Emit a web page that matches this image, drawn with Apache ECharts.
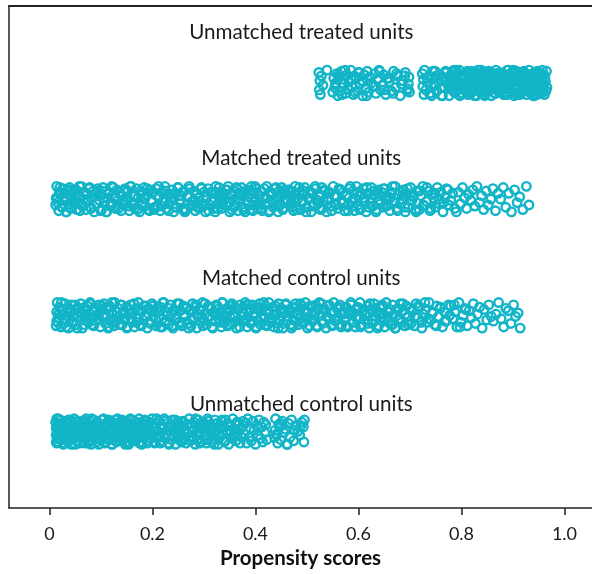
<!DOCTYPE html>
<html>
<head>
<meta charset="utf-8">
<script src="https://cdn.jsdelivr.net/npm/echarts@6/dist/echarts.min.js"></script>
<style>
  html, body { margin: 0; padding: 0; background: #fff; }
  #chart { width: 592px; height: 574px; }
</style>
</head>
<body>
<div id="chart"></div>
<script>
// ---- axis ----
const xTicks = [0, 0.2, 0.4, 0.6, 0.8, 1.0];
const xTickLabels = ['0', '0.2', '0.4', '0.6', '0.8', '1.0'];
const axisTitle = 'Propensity scores';

// ---- groups (rows, bottom to top) ----
const groupNames = ['Unmatched control units', 'Matched control units', 'Matched treated units', 'Unmatched treated units'];
const groupRows = [1, 2, 3, 4];
const labelX = 0.489;
const labelY = [1.237, 2.321, 3.348, 4.438];

// ---- propensity scores ----
const unmatchedTreated = [
0.523,0.524,0.525,0.526,0.528,0.531,0.539,0.550,0.552,0.554,0.556,0.558,0.560,0.563,0.565,0.567,0.570,0.572,0.575,0.577,
0.580,0.582,0.585,0.587,0.590,0.592,0.595,0.598,0.600,0.603,0.606,0.608,0.611,0.614,0.617,0.619,0.622,0.625,0.628,0.631,
0.634,0.637,0.640,0.643,0.646,0.649,0.653,0.656,0.660,0.664,0.668,0.672,0.676,0.681,0.686,0.691,0.696,0.697,0.698,0.699,
0.724,0.725,0.726,0.727,0.728,0.731,0.734,0.737,0.740,0.743,0.746,0.749,0.752,0.755,0.758,0.761,0.764,0.767,0.770,0.773,
0.776,0.778,0.780,0.782,0.784,0.786,0.788,0.790,0.792,0.794,0.796,0.798,0.800,0.802,0.804,0.806,0.808,0.810,0.812,0.814,
0.816,0.818,0.819,0.821,0.823,0.825,0.826,0.828,0.830,0.832,0.833,0.835,0.837,0.839,0.840,0.842,0.844,0.846,0.847,0.849,
0.851,0.853,0.854,0.856,0.858,0.860,0.861,0.863,0.865,0.867,0.868,0.870,0.872,0.874,0.875,0.877,0.879,0.881,0.882,0.884,
0.886,0.888,0.889,0.891,0.893,0.895,0.896,0.898,0.900,0.902,0.903,0.905,0.907,0.909,0.910,0.912,0.914,0.916,0.917,0.919,
0.921,0.923,0.924,0.926,0.928,0.930,0.931,0.933,0.935,0.937,0.938,0.940,0.942,0.944,0.945,0.947,0.949,0.951,0.952,0.954,
0.955,0.956,0.957,0.958,0.959,0.960,0.961,0.962,0.963,0.964,0.965,0.966,0.784,0.797,0.812,0.827,0.843,0.858,0.873,0.889,
0.742,0.751,0.760,0.769,0.779,0.789,0.799,0.809,0.819,0.829,0.838,0.848,0.857,0.866,0.876,0.885,0.894,0.904,0.913,0.922,
0.801,0.811,0.822,0.834,0.845,0.856,0.867,0.879,0.890,0.901,0.912,0.923,0.933,0.942,0.948,0.903,0.918,0.932,0.946,0.953,
0.776,0.781,0.786,0.791,0.795,0.800,0.805,0.810,0.815,0.820,0.824,0.829,0.834,0.838,0.843,0.848,0.852,0.857,0.862,0.866,
0.871,0.876,0.880,0.885,0.889,0.894,0.899,0.903,0.908,0.913,0.917,0.921,0.926,0.930,0.935,0.939,0.943,0.947,0.951,0.956,
0.733,0.738,0.744,0.750,0.757,0.763,0.770,0.777,0.783,0.790,0.817,0.831,0.846,0.861,0.878,0.892,0.907,0.920,0.936,0.950,
0.555,0.562,0.568,0.574,0.579,0.586,0.593,0.601,0.609,0.616,0.623,0.633,0.641,0.650,0.659,0.667,0.674,0.683,0.690,0.694
];
const matchedTreated = [
0.012,0.013,0.014,0.016,0.018,0.019,0.021,0.024,0.026,0.027,0.030,0.032,0.034,0.037,0.039,0.041,0.043,0.046,0.048,0.050,
0.052,0.055,0.057,0.059,0.062,0.064,0.066,0.068,0.071,0.073,0.075,0.078,0.080,0.082,0.085,0.087,0.089,0.092,0.094,0.097,
0.099,0.101,0.104,0.106,0.109,0.111,0.113,0.116,0.118,0.121,0.123,0.126,0.128,0.131,0.133,0.136,0.139,0.141,0.144,0.147,
0.149,0.152,0.155,0.158,0.161,0.163,0.166,0.169,0.172,0.175,0.178,0.181,0.184,0.186,0.189,0.192,0.195,0.198,0.201,0.204,
0.207,0.210,0.213,0.215,0.218,0.221,0.224,0.227,0.230,0.232,0.235,0.238,0.241,0.244,0.247,0.250,0.253,0.256,0.259,0.262,
0.265,0.268,0.271,0.274,0.277,0.280,0.283,0.286,0.289,0.292,0.295,0.297,0.300,0.303,0.306,0.308,0.311,0.314,0.316,0.319,
0.322,0.324,0.327,0.329,0.332,0.334,0.337,0.339,0.342,0.344,0.347,0.349,0.352,0.354,0.357,0.359,0.362,0.364,0.366,0.369,
0.371,0.373,0.376,0.378,0.380,0.383,0.385,0.387,0.390,0.392,0.394,0.397,0.399,0.401,0.404,0.406,0.408,0.411,0.413,0.415,
0.418,0.420,0.422,0.425,0.427,0.429,0.432,0.434,0.436,0.439,0.441,0.444,0.446,0.448,0.451,0.453,0.456,0.458,0.461,0.463,
0.466,0.469,0.471,0.474,0.477,0.479,0.482,0.485,0.488,0.491,0.493,0.496,0.499,0.502,0.505,0.508,0.511,0.514,0.517,0.520,
0.523,0.526,0.529,0.532,0.535,0.538,0.541,0.544,0.547,0.551,0.554,0.557,0.560,0.563,0.567,0.570,0.573,0.576,0.580,0.583,
0.586,0.589,0.592,0.596,0.599,0.602,0.605,0.609,0.612,0.615,0.618,0.622,0.625,0.628,0.632,0.635,0.638,0.641,0.645,0.648,
0.651,0.654,0.658,0.661,0.664,0.667,0.671,0.674,0.677,0.681,0.684,0.687,0.691,0.694,0.697,0.701,0.704,0.707,0.711,0.714,
0.718,0.721,0.725,0.728,0.732,0.735,0.739,0.742,0.746,0.749,0.753,0.757,0.760,0.764,0.768,0.771,0.775,0.779,0.783,0.787,
0.790,0.794,0.798,0.802,0.806,0.810,0.814,0.818,0.822,0.826,0.830,0.835,0.839,0.843,0.848,0.852,0.857,0.861,0.866,0.871,
0.015,0.020,0.025,0.029,0.033,0.038,0.044,0.049,0.053,0.058,0.063,0.067,0.072,0.077,0.081,0.086,0.091,0.095,0.100,0.105,
0.110,0.115,0.120,0.124,0.129,0.134,0.138,0.143,0.148,0.153,0.157,0.162,0.167,0.171,0.176,0.180,0.185,0.190,0.194,0.199,
0.203,0.208,0.212,0.217,0.222,0.226,0.231,0.236,0.240,0.245,0.249,0.254,0.258,0.263,0.268,0.272,0.277,0.281,0.286,0.290,
0.295,0.299,0.304,0.309,0.313,0.318,0.323,0.327,0.331,0.336,0.340,0.345,0.350,0.354,0.358,0.363,0.367,0.372,0.377,0.381,
0.386,0.390,0.395,0.399,0.403,0.408,0.412,0.417,0.421,0.426,0.430,0.435,0.440,0.444,0.449,0.453,0.457,0.462,0.467,0.471,
0.476,0.480,0.485,0.490,0.494,0.498,0.503,0.507,0.512,0.516,0.521,0.525,0.530,0.534,0.539,0.543,0.548,0.553,0.557,0.562,
0.566,0.571,0.575,0.580,0.584,0.589,0.594,0.598,0.603,0.607,0.611,0.616,0.620,0.625,0.630,0.634,0.639,0.643,0.648,0.653,
0.657,0.662,0.666,0.671,0.676,0.681,0.686,0.690,0.695,0.700,0.706,0.712,0.719,0.726,0.733,0.740,0.748,0.756,0.765,0.774,
0.876,0.881,0.886,0.892,0.897,0.903,0.908,0.913,0.919,0.926,0.931
];
const matchedControl = [
0.013,0.014,0.015,0.016,0.017,0.019,0.022,0.024,0.025,0.028,0.030,0.033,0.035,0.037,0.040,0.042,0.044,0.047,0.049,0.052,
0.054,0.056,0.059,0.061,0.064,0.066,0.069,0.071,0.074,0.076,0.079,0.081,0.084,0.086,0.089,0.091,0.094,0.096,0.099,0.101,
0.104,0.106,0.109,0.111,0.114,0.117,0.119,0.122,0.125,0.127,0.130,0.133,0.135,0.138,0.141,0.143,0.146,0.149,0.151,0.154,
0.157,0.160,0.162,0.165,0.168,0.171,0.173,0.176,0.179,0.182,0.185,0.187,0.190,0.193,0.196,0.199,0.202,0.204,0.207,0.210,
0.213,0.216,0.219,0.222,0.225,0.228,0.231,0.234,0.237,0.240,0.242,0.245,0.248,0.251,0.254,0.257,0.260,0.263,0.266,0.269,
0.272,0.275,0.278,0.281,0.283,0.286,0.289,0.292,0.295,0.297,0.300,0.303,0.305,0.308,0.311,0.313,0.316,0.319,0.321,0.324,
0.326,0.329,0.331,0.334,0.336,0.339,0.341,0.344,0.346,0.349,0.351,0.354,0.356,0.358,0.361,0.363,0.366,0.368,0.370,0.373,
0.375,0.377,0.380,0.382,0.384,0.387,0.389,0.391,0.394,0.396,0.398,0.401,0.403,0.405,0.408,0.410,0.412,0.415,0.417,0.419,
0.422,0.424,0.426,0.429,0.431,0.433,0.436,0.438,0.441,0.443,0.445,0.448,0.450,0.453,0.455,0.458,0.460,0.463,0.465,0.468,
0.470,0.473,0.475,0.478,0.481,0.483,0.486,0.489,0.491,0.494,0.497,0.500,0.502,0.505,0.508,0.511,0.514,0.517,0.520,0.522,
0.525,0.528,0.531,0.534,0.537,0.540,0.543,0.546,0.549,0.552,0.555,0.558,0.561,0.564,0.567,0.570,0.573,0.576,0.579,0.582,
0.585,0.588,0.591,0.594,0.597,0.600,0.603,0.606,0.609,0.612,0.615,0.618,0.621,0.624,0.627,0.630,0.633,0.636,0.639,0.642,
0.645,0.648,0.651,0.654,0.657,0.660,0.663,0.666,0.669,0.672,0.675,0.678,0.681,0.684,0.687,0.690,0.693,0.696,0.699,0.702,
0.705,0.709,0.712,0.716,0.719,0.723,0.726,0.730,0.733,0.737,0.741,0.744,0.748,0.752,0.755,0.759,0.763,0.767,0.771,0.775,
0.779,0.783,0.787,0.791,0.795,0.799,0.803,0.807,0.811,0.815,0.819,0.823,0.827,0.831,0.835,0.840,0.844,0.849,0.853,0.858,
0.014,0.018,0.023,0.027,0.032,0.036,0.041,0.045,0.050,0.055,0.059,0.064,0.068,0.073,0.078,0.082,0.087,0.092,0.097,0.102,
0.107,0.112,0.116,0.121,0.126,0.131,0.136,0.140,0.145,0.150,0.155,0.159,0.164,0.169,0.174,0.178,0.183,0.188,0.192,0.197,
0.201,0.206,0.211,0.215,0.220,0.224,0.229,0.233,0.238,0.243,0.247,0.252,0.256,0.261,0.265,0.270,0.274,0.279,0.284,0.288,
0.293,0.298,0.302,0.307,0.312,0.317,0.322,0.326,0.331,0.335,0.340,0.345,0.350,0.355,0.359,0.364,0.369,0.374,0.378,0.383,
0.388,0.392,0.397,0.402,0.406,0.411,0.416,0.420,0.425,0.430,0.434,0.439,0.444,0.449,0.454,0.459,0.464,0.468,0.473,0.477,
0.482,0.487,0.492,0.496,0.501,0.506,0.510,0.515,0.519,0.524,0.529,0.533,0.538,0.543,0.548,0.553,0.557,0.562,0.566,0.571,
0.576,0.580,0.585,0.590,0.595,0.599,0.604,0.609,0.613,0.618,0.622,0.627,0.632,0.637,0.641,0.646,0.651,0.656,0.661,0.666,
0.671,0.676,0.681,0.686,0.691,0.697,0.703,0.709,0.716,0.722,0.729,0.736,0.744,0.751,0.759,0.768,0.777,0.786,0.797,0.808,
0.862,0.867,0.872,0.877,0.882,0.886,0.891,0.896,0.901,0.905,0.910,0.914
];
const unmatchedControl = [
0.012,0.013,0.013,0.014,0.014,0.015,0.015,0.016,0.017,0.019,0.020,0.021,0.023,0.024,0.026,0.027,0.028,0.030,0.031,0.033,
0.034,0.036,0.037,0.039,0.040,0.042,0.043,0.045,0.046,0.048,0.049,0.051,0.053,0.054,0.056,0.057,0.059,0.061,0.062,0.064,
0.066,0.067,0.069,0.071,0.072,0.074,0.076,0.078,0.079,0.081,0.083,0.085,0.086,0.088,0.090,0.092,0.094,0.095,0.097,0.099,
0.101,0.103,0.105,0.106,0.108,0.110,0.112,0.114,0.116,0.118,0.120,0.122,0.124,0.126,0.128,0.129,0.131,0.133,0.135,0.137,
0.139,0.141,0.143,0.145,0.147,0.149,0.151,0.153,0.155,0.157,0.159,0.161,0.163,0.165,0.167,0.169,0.171,0.173,0.175,0.177,
0.179,0.181,0.183,0.185,0.187,0.189,0.191,0.193,0.195,0.197,0.199,0.201,0.203,0.205,0.207,0.209,0.211,0.213,0.215,0.217,
0.219,0.221,0.223,0.225,0.227,0.229,0.231,0.233,0.235,0.237,0.239,0.241,0.243,0.245,0.247,0.249,0.251,0.253,0.255,0.257,
0.259,0.261,0.263,0.265,0.267,0.269,0.271,0.273,0.275,0.277,0.279,0.281,0.283,0.285,0.287,0.289,0.291,0.293,0.295,0.297,
0.299,0.301,0.303,0.305,0.307,0.309,0.311,0.313,0.315,0.317,0.319,0.321,0.322,0.324,0.326,0.328,0.330,0.332,0.334,0.336,
0.338,0.340,0.342,0.344,0.346,0.348,0.350,0.352,0.354,0.356,0.358,0.360,0.362,0.364,0.366,0.368,0.370,0.372,0.374,0.376,
0.378,0.380,0.383,0.385,0.387,0.390,0.392,0.395,0.397,0.400,0.402,0.405,0.407,0.410,0.412,0.414,0.416,0.418,0.420,0.422,
0.437,0.438,0.439,0.441,0.443,0.445,0.447,0.449,0.452,0.455,0.458,0.461,0.464,0.467,0.470,0.474,0.478,0.482,0.486,0.490,
0.013,0.015,0.017,0.018,0.022,0.025,0.029,0.032,0.035,0.038,0.041,0.044,0.047,0.050,0.052,0.055,0.058,0.060,0.063,0.065,
0.068,0.070,0.073,0.075,0.077,0.080,0.082,0.084,0.087,0.089,0.091,0.093,0.096,0.098,0.100,0.102,0.104,0.107,0.109,0.111,
0.113,0.115,0.117,0.119,0.121,0.123,0.125,0.127,0.130,0.132,0.134,0.136,0.138,0.140,0.142,0.144,0.146,0.148,0.150,0.152,
0.154,0.156,0.158,0.160,0.162,0.164,0.166,0.168,0.170,0.172,0.174,0.176,0.178,0.180,0.182,0.184,0.186,0.188,0.190,0.192,
0.196,0.200,0.204,0.208,0.212,0.216,0.220,0.224,0.228,0.232,0.236,0.240,0.244,0.248,0.252,0.256,0.260,0.264,0.268,0.272,
0.276,0.280,0.284,0.288,0.292,0.296,0.300,0.304,0.308,0.312,0.316,0.320,0.325,0.330,0.335,0.340,0.346,0.352,0.358,0.365,
0.493,0.494,0.495,0.441,0.449,0.462,0.476,0.488
];

// ---- vertical jitter offsets (as drawn in the picture) ----
const jitA = [0.09,-0.06,0.02,-0.10,0.06,-0.02,0.11,-0.08,0.04,-0.04,0.00,0.08,-0.11,0.05,-0.07,0.10,-0.01,0.03,-0.09,0.07];
const jitB = [-0.05,0.01,0.11,-0.03,-0.10,0.06,0.04,-0.07,0.09,-0.01,0.02,-0.11,0.07,-0.05,0.10,-0.08,0.05,0.00,-0.03,0.08];
const jitC = [-0.09,0.03,0.11,-0.06,-0.02,0.07,-0.10,0.04,0.01,-0.07,0.10,-0.04,0.06,-0.11,0.02,0.09,-0.05,-0.01,0.05,-0.08];
const jitD = [0.08,-0.03,0.03,-0.10,0.11,-0.06,0.00,0.06,-0.09,0.04,-0.02,0.10,-0.07,0.01,0.07,-0.11,0.05,-0.04,0.09,-0.01];
const jitE = [-0.11,0.06,-0.04,0.10,0.01,-0.08,0.04,-0.01,0.08,-0.06,0.11,-0.03,0.03,-0.09,0.07,-0.05,0.00,0.09,-0.10,0.05];
const jitF = [0.04,-0.09,0.10,-0.02,0.07,-0.11,0.01,0.05,-0.06,0.11,-0.04,0.02,-0.08,0.08,-0.01,0.06,-0.10,0.03,-0.05,0.09];
const jitG = [0.00,0.10,-0.07,0.05,-0.11,0.08,-0.03,0.02,-0.09,0.11,-0.05,0.06,-0.01,0.09,-0.08,0.03,-0.04,0.07,-0.10,0.01];
const jitH = [-0.02,0.07,-0.10,0.11,-0.05,0.03,-0.08,0.09,0.01,-0.11,0.05,-0.03,0.10,-0.06,0.04,-0.09,0.08,-0.01,0.06,-0.07];

const jitUT = [...jitA, ...jitB, ...jitC, ...jitD, ...jitE, ...jitF, ...jitG, ...jitH,
               ...jitA, ...jitC, ...jitE, ...jitG, ...jitB, ...jitD, ...jitF, ...jitH];
const jitMT = [...jitB, ...jitD, ...jitF, ...jitH, ...jitA, ...jitC, ...jitE, ...jitG,
               ...jitB, ...jitD, ...jitF, ...jitH, ...jitA, ...jitC, ...jitE,
               ...jitG, ...jitE, ...jitC, ...jitA, ...jitH, ...jitF, ...jitD, ...jitB, ...jitG];
const jitMC = [...jitC, ...jitE, ...jitG, ...jitA, ...jitH, ...jitF, ...jitD, ...jitB,
               ...jitC, ...jitE, ...jitG, ...jitA, ...jitH, ...jitF, ...jitD,
               ...jitB, ...jitH, ...jitD, ...jitF, ...jitA, ...jitG, ...jitC, ...jitE, ...jitB];
const jitUC = [...jitD, ...jitF, ...jitH, ...jitB, ...jitG, ...jitE, ...jitC, ...jitA,
               ...jitD, ...jitF, ...jitH, ...jitB,
               ...jitC, ...jitA, ...jitG, ...jitE, ...jitH, ...jitB, ...jitF];

const ringColor = '#12b5c7';
const xMin = -0.0786, xMax = 1.0534;

function rowPoints(scores, jit, row) {
  const out = [];
  for (let i = 0; i < scores.length && i < jit.length; i++) out.push([scores[i], row + jit[i]]);
  return out;
}

const groups = [
  { scores: unmatchedControl, jit: jitUC },
  { scores: matchedControl, jit: jitMC },
  { scores: matchedTreated, jit: jitMT },
  { scores: unmatchedTreated, jit: jitUT }
];

const chart = echarts.init(document.getElementById('chart'), null, { renderer: 'canvas' });

const pointSeries = groups.map((g, k) => ({
  type: 'scatter',
  name: groupNames[k],
  xAxisIndex: 0,
  data: rowPoints(g.scores, g.jit, groupRows[k]),
  symbol: 'circle',
  symbolSize: 8.5,
  silent: true,
  itemStyle: { color: 'rgba(0,0,0,0)', borderColor: ringColor, borderWidth: 2.4, opacity: 1 }
}));

chart.setOption({
  animation: false,
  backgroundColor: '#fff',
  grid: { left: 9, top: 6, right: 0, bottom: 66, show: false },
  xAxis: [{
    type: 'value',
    position: 'bottom',
    min: xMin,
    max: xMax,
    name: axisTitle,
    nameLocation: 'middle',
    nameGap: 40,
    nameTextStyle: { fontFamily: 'Lato', fontSize: 20.5, fontWeight: 'bold', color: '#111' },
    axisLine: { show: true, onZero: false, lineStyle: { color: '#222', width: 1.5 } },
    axisTick: { show: true, customValues: xTicks, length: 7, lineStyle: { color: '#222', width: 1.5 } },
    axisLabel: {
      customValues: xTicks,
      formatter: v => xTickLabels[Math.round(v / 0.2)],
      fontFamily: 'Lato',
      fontSize: 18,
      color: '#1a1a1a',
      margin: 17
    },
    splitLine: { show: false }
  }, {
    type: 'value',
    position: 'top',
    min: xMin,
    max: xMax,
    axisLine: { show: true, onZero: false, lineStyle: { color: '#222', width: 1.8 } },
    axisTick: { show: false },
    axisLabel: { show: false },
    splitLine: { show: false }
  }],
  yAxis: {
    type: 'value',
    min: 0.342,
    max: 4.662,
    axisLine: { show: true, onZero: false, lineStyle: { color: '#222', width: 1.5 } },
    axisTick: { show: false },
    axisLabel: { show: false },
    splitLine: { show: false }
  },
  series: pointSeries
});

// group titles, positioned through the axes
const titleGraphics = groupNames.map((n, k) => {
  const p = chart.convertToPixel({ xAxisIndex: 0, yAxisIndex: 0 }, [labelX, labelY[k]]);
  return {
    type: 'text',
    x: p[0],
    y: p[1],
    silent: true,
    style: {
      text: n,
      fill: '#1a1a1a',
      font: '20.6px Lato',
      align: 'center',
      verticalAlign: 'middle'
    }
  };
});
chart.setOption({ graphic: titleGraphics });
</script>
</body>
</html>
